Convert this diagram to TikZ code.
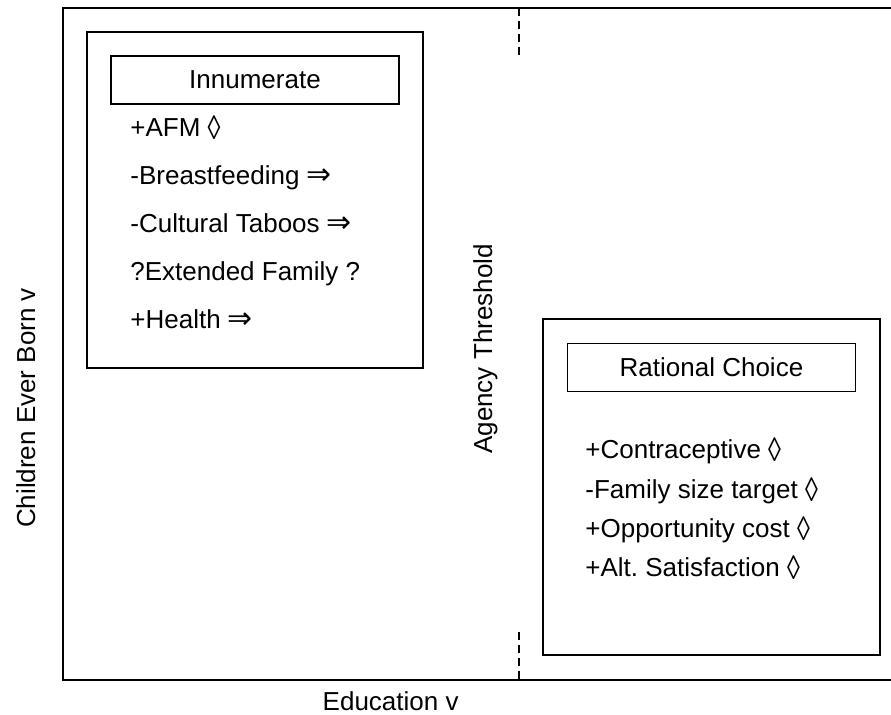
\documentclass[tikz,border=0pt]{standalone}
\usepackage{fontspec}
\usepackage{graphicx}
\setmainfont{Liberation Sans}
\newfontfamily\symbfont[Scale=1.15]{DejaVu Sans}
\frenchspacing

\newcommand{\implarrow}{{\symbfont ⇒}}
\newcommand{\lozmark}{\raisebox{-0.08em}{\scalebox{1}[1.3]{◊}}}

\begin{document}
\begin{tikzpicture}[x=0.5pt,y=-0.5pt,
    every node/.style={font=\fontsize{13}{15}\selectfont},
    panel/.style={draw, line width=0.9pt, minimum width=168pt, minimum height=168pt, inner sep=0pt},
    titlebox/.style={draw, line width=0.7pt, minimum width=144pt, minimum height=24pt, inner sep=0pt},
    item/.style={anchor=base west, inner sep=0pt},
    frameline/.style={line width=1pt},
    threshold/.style={line width=1pt, dash pattern=on 4pt off 2.5pt}]
    \useasboundingbox (0,0) rectangle (891,715);

    % Outer frame
    \coordinate (frame-tl) at (63,8);
    \coordinate (frame-bl) at (63,680);
    \coordinate (frame-tr) at (891,8);
    \coordinate (frame-br) at (891,680);
    \draw[frameline] (frame-tr) -- (frame-tl) -- (frame-bl) -- (frame-br);

    % Axis labels
    \node[anchor=base, rotate=90, inner sep=0pt] (cebLabel) at (35,408) {Children Ever Born v};
    \node[anchor=base east, inner sep=0pt] (eduLabel) at (459,711) {Education v};

    % Agency threshold
    \coordinate (thr-top) at (519,8);
    \coordinate (thr-topend) at (519,55);
    \coordinate (thr-bot) at (519,632);
    \coordinate (thr-botend) at (519,680);
    \draw[threshold] (thr-top) -- (thr-topend);
    \draw[threshold] (thr-bot) -- (thr-botend);
    \node[anchor=base, rotate=90, inner sep=0pt] (thrLabel) at (492,349) {Agency Threshold};

    % Innumerate regime
    \node[panel] (innum) at (255,200) {};
    \node[titlebox] (innumTitle) at (255,80) {Innumerate};
    \node[item] (afm) at (130,137) {+AFM \lozmark};
    \node[item] (breast) at (130,185) {-Breastfeeding \implarrow};
    \node[item] (taboo) at (130,233) {-Cultural Taboos \implarrow};
    \node[item] (extfam) at (130,281) {?Extended Family ?};
    \node[item] (health) at (130,329) {+Health \implarrow};

    % Rational choice regime
    \node[panel, minimum width=168.5pt] (ratio) at (711.5,487) {};
    \node[titlebox] (ratioTitle) at (711.5,367.5) {Rational Choice};
    \node[item] (contra) at (585,459) {+Contraceptive \lozmark};
    \node[item] (famsize) at (585,499) {-Family size target \lozmark};
    \node[item] (oppcost) at (585,538) {+Opportunity cost \lozmark};
    \node[item] (altsat) at (585,577) {+Alt. Satisfaction \lozmark};
\end{tikzpicture}
\end{document}
